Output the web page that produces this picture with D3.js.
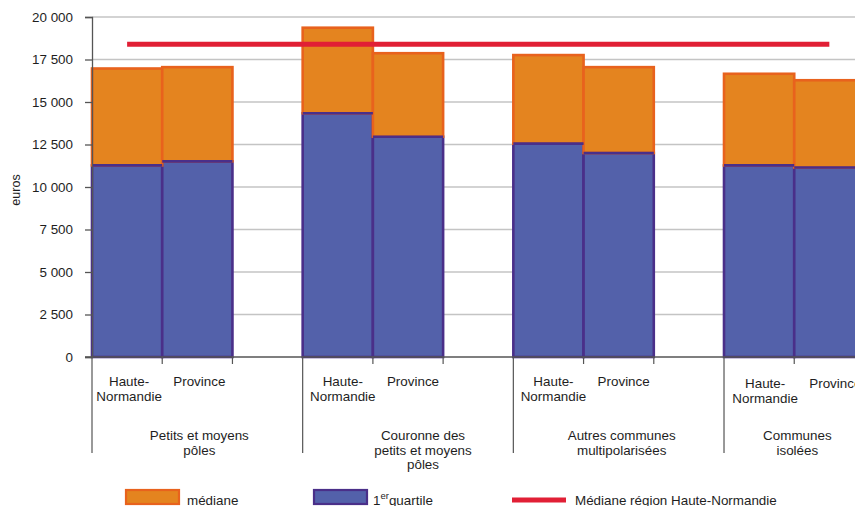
<!DOCTYPE html>
<html lang="fr">
<head>
<meta charset="utf-8">
<script src="https://cdn.jsdelivr.net/npm/d3@7/dist/d3.min.js"></script>
<style>
  html, body { margin: 0; padding: 0; background: #fff; overflow: hidden; }
  svg { display: block; font-family: "Liberation Sans", Arial, sans-serif; }
</style>
</head>
<body>
<div id="chart"></div>
<script>
// Revenu fiscal par unité de consommation selon le type d'espace
const groups = [
  ["Petits et moyens", "pôles"],
  ["Couronne des", "petits et moyens", "pôles"],
  ["Autres communes", "multipolarisées"],
  ["Communes", "isolées"]
];
const zones = ["Haute-Normandie", "Province"];
const zoneLabels = [["Haute-", "Normandie"], ["Province"]];
// 1er quartile, par groupe : [Haute-Normandie, Province]
const quartile1 = [
  [11270, 11510],
  [14340, 12960],
  [12550, 12000],
  [11270, 11150]
];
// médiane, par groupe : [Haute-Normandie, Province]
const mediane = [
  [16970, 17050],
  [19370, 17870],
  [17760, 17050],
  [16660, 16280]
];
const medianeRegion = 18400;
const yTicks = [0, 2500, 5000, 7500, 10000, 12500, 15000, 17500, 20000];

const W = 855, H = 506;
const plotLeft = 92, plotTop = 17, plotBottom = 357;
const groupStep = 210.67;
const fs = 13.4;

const colOrange = "#e4841f", strokeOrange = "#e8621d";
const colBlue = "#5361aa", strokeBlue = "#4a2f89";
const colRed = "#e11f35";
const axisCol = "#555";
const textCol = "#1e1e1e";

const svg = d3.select("#chart").append("svg")
  .attr("width", W).attr("height", H);

const y = d3.scaleLinear().domain([0, 20000]).range([plotBottom, plotTop]);
const xg = d3.scaleBand().domain(d3.range(groups.length))
  .range([plotLeft, plotLeft + groupStep * groups.length]).padding(0);
const xi = d3.scaleBand().domain([...zones, "gap"])
  .range([0, xg.bandwidth()]).padding(0);

const fmt = v => d3.format(",")(v).replace(/,/g, " ");

// grille horizontale
svg.append("g").selectAll("line")
  .data(yTicks.filter(t => t > 0))
  .join("line")
  .attr("x1", plotLeft).attr("x2", W)
  .attr("y1", d => y(d)).attr("y2", d => y(d))
  .attr("stroke", "#c4c4c4").attr("stroke-width", 1.3);

// barres empilées
const rows = [];
groups.forEach((g, gi) => zones.forEach((z, zi) => {
  rows.push({ gi, z, q1: quartile1[gi][zi], med: mediane[gi][zi] });
}));
const bars = svg.append("g");
const bx = d => xg(d.gi) + xi(d.z);
bars.selectAll("rect.q1").data(rows).join("rect")
  .attr("class", "q1")
  .attr("x", bx).attr("width", xi.bandwidth())
  .attr("y", d => y(d.q1)).attr("height", d => y(0) - y(d.q1))
  .attr("fill", colBlue).attr("stroke", strokeBlue).attr("stroke-width", 2.6);
bars.selectAll("rect.med").data(rows).join("rect")
  .attr("class", "med")
  .attr("x", bx).attr("width", xi.bandwidth())
  .attr("y", d => y(d.med)).attr("height", d => y(d.q1) - y(d.med))
  .attr("fill", colOrange).attr("stroke", strokeOrange).attr("stroke-width", 2.6);
// bord haut du quartile par-dessus la médiane
bars.selectAll("line.q1top").data(rows).join("line")
  .attr("x1", bx).attr("x2", d => bx(d) + xi.bandwidth())
  .attr("y1", d => y(d.q1)).attr("y2", d => y(d.q1))
  .attr("stroke", strokeBlue).attr("stroke-width", 2.6);

// médiane régionale
svg.append("line")
  .attr("x1", xg(0) + xi.bandwidth() / 2).attr("x2", xg(3) + xi.bandwidth() * 1.5)
  .attr("y1", y(medianeRegion)).attr("y2", y(medianeRegion))
  .attr("stroke", colRed).attr("stroke-width", 5);

// axe vertical
const yAxis = svg.append("g").attr("transform", `translate(${plotLeft},0)`)
  .call(d3.axisLeft(y).tickValues(yTicks).tickFormat(fmt).tickSize(7).tickPadding(12));
yAxis.select(".domain").attr("stroke", axisCol).attr("stroke-width", 1.3);
yAxis.selectAll(".tick line").attr("stroke", axisCol).attr("stroke-width", 1.3);
yAxis.selectAll(".tick text").attr("font-size", fs).attr("fill", textCol)
  .attr("font-family", "Liberation Sans, Arial, sans-serif");

// axe horizontal
svg.append("line").attr("x1", plotLeft - 7).attr("x2", W)
  .attr("y1", plotBottom).attr("y2", plotBottom)
  .attr("stroke", axisCol).attr("stroke-width", 1.3);

svg.append("text")
  .attr("transform", `translate(20,190) rotate(-90)`)
  .attr("text-anchor", "middle").attr("font-size", 12.5).attr("fill", textCol)
  .text("euros");

const xAxis = svg.append("g");
const zoneNudge = [2, 5, 5, 6];
groups.forEach((g, gi) => {
  const g0 = xg(gi);
  // séparateur de groupe
  xAxis.append("line").attr("x1", g0).attr("x2", g0)
    .attr("y1", plotBottom).attr("y2", 453)
    .attr("stroke", axisCol).attr("stroke-width", 1.2);
  // petites graduations
  [1, 2].forEach(k => {
    const xx = g0 + xi.bandwidth() * k;
    xAxis.append("line").attr("x1", xx).attr("x2", xx)
      .attr("y1", plotBottom).attr("y2", plotBottom + 7)
      .attr("stroke", axisCol).attr("stroke-width", 1.2);
  });
  // libellés des zones
  zones.forEach((z, zi) => {
    const cx = g0 + xi(z) + xi.bandwidth() / 2 + zoneNudge[gi];
    const t = xAxis.append("text")
      .attr("x", cx)
      .attr("y", 386 + (gi === 3 ? 1.5 : 0))
      .attr("text-anchor", "middle").attr("font-size", fs).attr("fill", textCol);
    zoneLabels[zi].forEach((line, li) => {
      t.append("tspan").attr("x", cx).attr("dy", li === 0 ? 0 : 15).text(line);
    });
  });
});

// libellés des groupes
const groupNudge = [2, 15, 3, -32];
groups.forEach((lines, gi) => {
  const cx = xg(gi) + xg.bandwidth() / 2 + groupNudge[gi];
  const t = xAxis.append("text").attr("x", cx).attr("y", 440)
    .attr("text-anchor", "middle").attr("font-size", fs).attr("fill", textCol);
  lines.forEach((line, li) => {
    t.append("tspan").attr("x", cx).attr("dy", li === 0 ? 0 : 14.5).text(line);
  });
});

// légende
const leg = svg.append("g");
leg.append("rect").attr("x", 126).attr("y", 490).attr("width", 53).attr("height", 14)
  .attr("fill", colOrange).attr("stroke", strokeOrange).attr("stroke-width", 2.2);
leg.append("text").attr("x", 187).attr("y", 504.5).attr("font-size", fs).attr("fill", textCol)
  .text("médiane");
leg.append("rect").attr("x", 314).attr("y", 490).attr("width", 53).attr("height", 14)
  .attr("fill", colBlue).attr("stroke", strokeBlue).attr("stroke-width", 2.2);
const q = leg.append("text").attr("x", 373).attr("y", 504.5).attr("font-size", fs).attr("fill", textCol);
q.append("tspan").text("1");
q.append("tspan").attr("font-size", 9.5).attr("dy", -6).text("er");
q.append("tspan").attr("dy", 6).text("quartile");
leg.append("line").attr("x1", 512).attr("x2", 566).attr("y1", 500).attr("y2", 500)
  .attr("stroke", colRed).attr("stroke-width", 5);
leg.append("text").attr("x", 575).attr("y", 504.5).attr("font-size", fs).attr("fill", textCol)
  .text("Médiane région Haute-Normandie");
</script>
</body>
</html>
